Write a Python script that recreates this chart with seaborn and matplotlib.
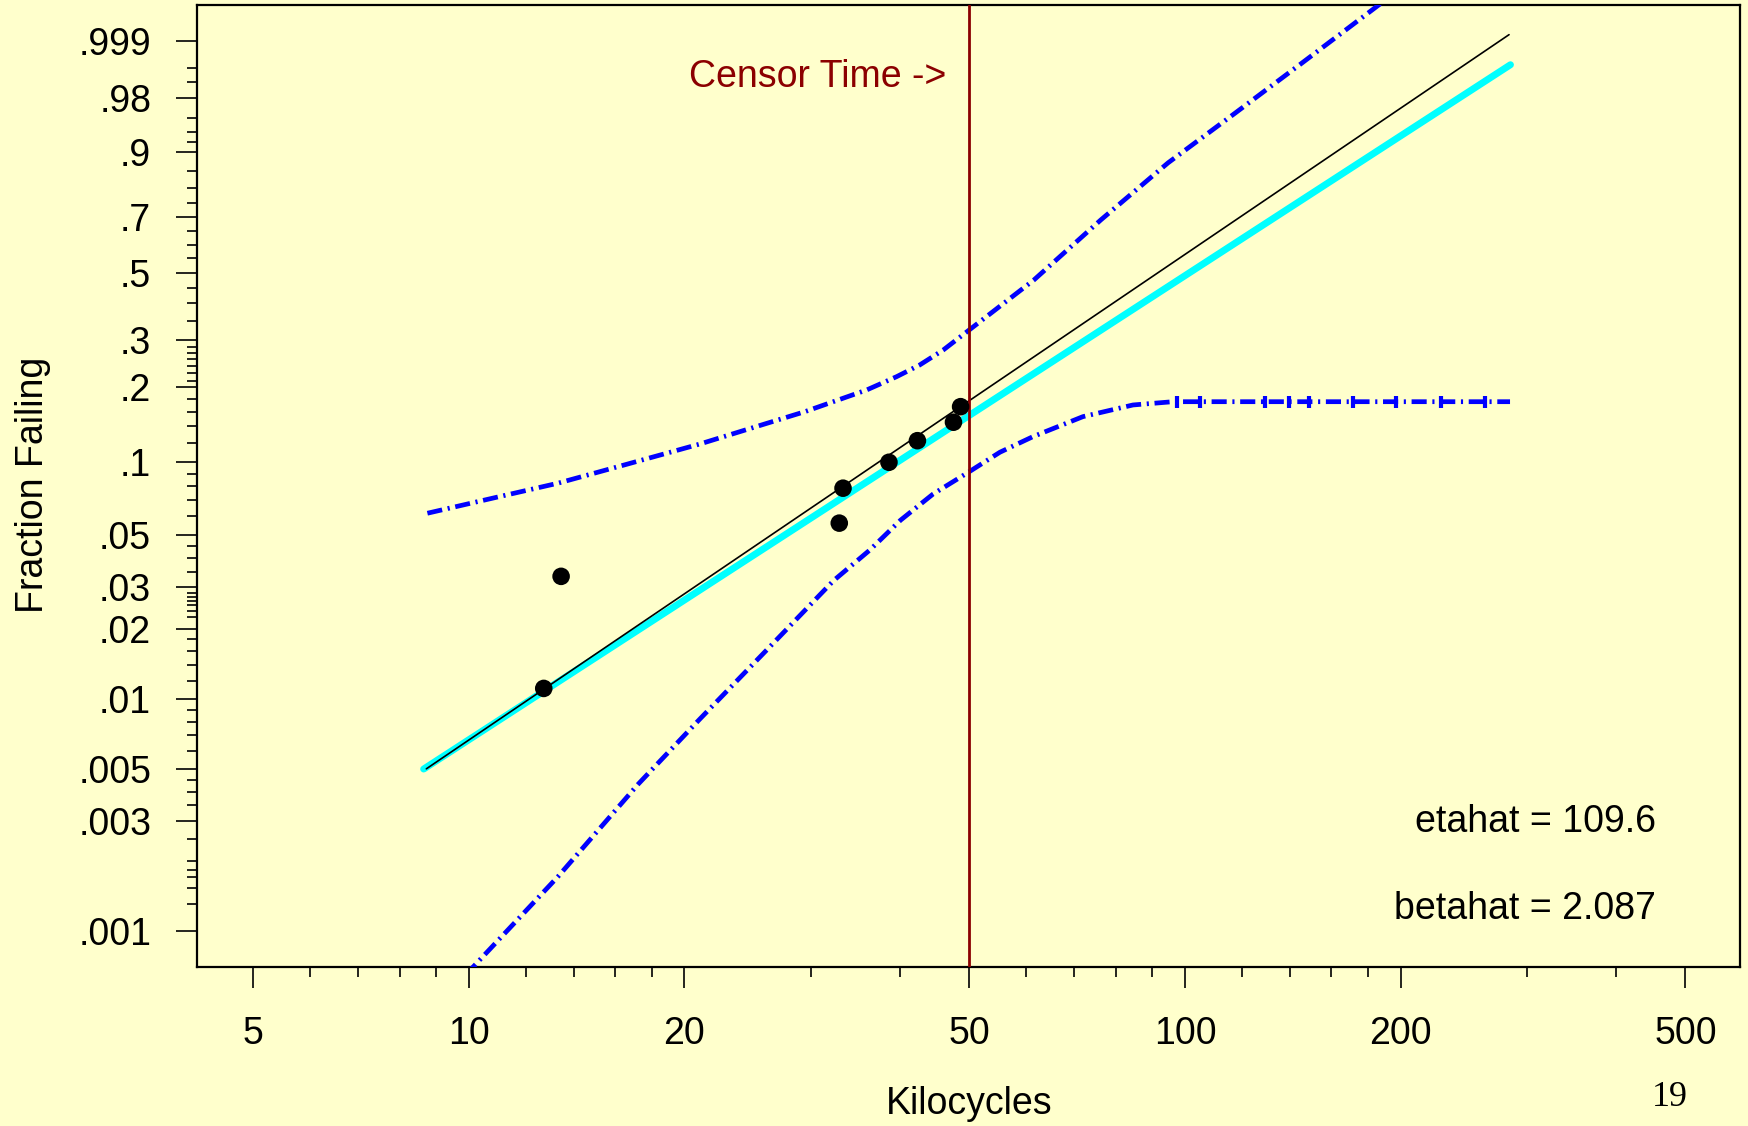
import numpy as np
import pandas as pd
import matplotlib
matplotlib.use("Agg")
import matplotlib.pyplot as plt
from matplotlib.ticker import NullFormatter
import seaborn as sns

# ---------------- data ----------------
fail_kcycles = [12.72, 13.45, 32.9, 33.3, 38.6, 42.3, 47.5, 48.6]
fail_prob = [0.0111, 0.0334, 0.0560, 0.0783, 0.1001, 0.1225, 0.1453, 0.1674]

mle_kcycles = [8.72, 283.5]
mle_prob = [0.00501, 0.99937]

cyan_kcycles = [8.645, 284.8]
cyan_prob = [0.00500, 0.99578]

upper_kcycles = [8.75, 10.73, 13.31, 16.52, 21.02, 26.0, 29.46, 32.27, 35.93,
                 39.56, 42.6, 45.96, 49.6, 61.5, 76.3, 94.7, 117.4, 145.5, 188.3]
upper_prob = [0.0616, 0.0709, 0.0821, 0.0978, 0.1188, 0.1435, 0.160, 0.1751, 0.1945,
              0.2187, 0.2420, 0.275, 0.320, 0.475, 0.690, 0.873, 0.9658, 0.9961, 0.99996]

lower_kcycles = [9.87, 10.15, 13.31, 17.24, 21.02, 26.05, 32.31, 36.31, 40.06, 44.47,
                 49.8, 55.15, 61.33, 72.02, 84.6, 96.2, 284.4]
lower_prob = [0.000648, 0.000705, 0.001718, 0.00431, 0.00821, 0.01621, 0.03206, 0.0432,
              0.0576, 0.0740, 0.0910, 0.1100, 0.1272, 0.1529, 0.170, 0.1751, 0.1751]

flat_mark_kcycles = [97.6, 104.8, 129.3, 139.5, 148.8, 171.9, 196.9, 227.5, 262.8]
flat_mark_prob = [0.1751] * 9

censor_time = 50

x_major = [5, 10, 20, 50, 100, 200, 500]
x_major_labels = ["5", "10", "20", "50", "100", "200", "500"]
x_minor = [6, 7, 8, 9, 12, 14, 16, 18, 30, 40, 60, 70, 80, 90, 120, 140, 160, 180, 300, 400]

y_major = [0.999, 0.98, 0.9, 0.7, 0.5, 0.3, 0.2, 0.1, 0.05, 0.03, 0.02, 0.01, 0.005, 0.003, 0.001]
y_major_labels = [".999", ".98", ".9", ".7", ".5", ".3", ".2", ".1", ".05", ".03", ".02",
                  ".01", ".005", ".003", ".001"]
y_minor = [0.995, 0.99, 0.96, 0.94, 0.92, 0.85, 0.8, 0.75, 0.65, 0.6, 0.55, 0.45, 0.4, 0.35,
           0.283, 0.269, 0.254, 0.24, 0.225, 0.211, 0.18, 0.16, 0.14, 0.12,
           0.09, 0.08, 0.07, 0.06, 0.045, 0.04, 0.035,
           0.0285, 0.0274, 0.0263, 0.0252, 0.0239, 0.0224,
           0.018, 0.016, 0.014, 0.012, 0.009, 0.008, 0.007, 0.006,
           0.0045, 0.004, 0.0035, 0.0025, 0.002, 0.00184, 0.00172, 0.00153, 0.00131]

eta_text = "etahat = 109.6"
beta_text = "betahat = 2.087"

# ---------------- styling ----------------
BG = "#FFFFCC"
sns.set_style("ticks", {"axes.facecolor": BG, "figure.facecolor": BG})
plt.rcParams["font.family"] = ["Liberation Sans", "DejaVu Sans"]
plt.rcParams["text.color"] = "black"
plt.rcParams["xtick.color"] = "black"
plt.rcParams["ytick.color"] = "black"
plt.rcParams["axes.edgecolor"] = "black"

W, H = 1748, 1126
fig = plt.figure(figsize=(W / 100, H / 100), dpi=100)
fig.patch.set_facecolor(BG)
L, R, T, B = 197, 1740, 4.5, 966.5
ax = fig.add_axes([L / W, 1 - B / H, (R - L) / W, (B - T) / H])
ax.set_facecolor(BG)

# bands
df_up = pd.DataFrame({"t": upper_kcycles, "p": upper_prob})
df_lo = pd.DataFrame({"t": lower_kcycles, "p": lower_prob})
dash = (0, (3.2, 1.2, 0.45, 1.2))
for df in (df_up, df_lo):
    sns.lineplot(data=df, x="t", y="p", ax=ax, color="#0000FF", lw=3.4,
                 estimator=None, sort=False, zorder=3)
    ax.lines[-1].set_linestyle(dash)
    ax.lines[-1].set_solid_joinstyle("round")

df_mark = pd.DataFrame({"t": flat_mark_kcycles, "p": flat_mark_prob})
sns.scatterplot(data=df_mark, x="t", y="p", ax=ax, marker="|", s=70, color="#0000FF",
                linewidth=3, zorder=3)

# fitted lines
sns.lineplot(x=cyan_kcycles, y=cyan_prob, ax=ax, color="#00FFFF", lw=5.0,
             estimator=None, sort=False, zorder=4)
sns.lineplot(x=mle_kcycles, y=mle_prob, ax=ax, color="black", lw=1.2,
             estimator=None, sort=False, zorder=5)

# censor line
ax.axvline(censor_time, color="#8B0000", lw=2.0, zorder=6)

# data points
sns.scatterplot(x=fail_kcycles, y=fail_prob, ax=ax, color="black", s=160,
                edgecolor="none", zorder=7)

# scales
def fwd(p):
    p = np.clip(np.asarray(p, dtype=float), 1e-15, 1 - 1e-15)
    return np.log(-np.log1p(-p))


def inv(w):
    w = np.clip(np.asarray(w, dtype=float), -60, 5)
    return -np.expm1(-np.exp(w))


ax.set_xscale("log")
ax.set_yscale("function", functions=(fwd, inv))
ax.set_xlim(4.171, 595.8)
ax.set_ylim(7.05e-4, 0.999952)

ax.set_xticks(x_major)
ax.set_xticklabels(x_major_labels)
ax.set_xticks(x_minor, minor=True)
ax.xaxis.set_minor_formatter(NullFormatter())
ax.set_yticks(y_major)
ax.set_yticklabels(y_major_labels)
ax.set_yticks(y_minor, minor=True)
ax.yaxis.set_minor_formatter(NullFormatter())

ax.tick_params(axis="both", which="major", direction="out", length=15, width=1.2,
               labelsize=27, colors="black", labelcolor="black")
ax.tick_params(axis="x", which="major", pad=21)
ax.tick_params(axis="y", which="major", pad=18)
ax.tick_params(axis="both", which="minor", direction="out", length=7.5, width=1.2,
               colors="black")

for s in ax.spines.values():
    s.set_visible(True)
    s.set_color("black")
    s.set_linewidth(1.6)

ax.set_xlabel("")
ax.set_ylabel("")


def ftext(x, y, s, **kw):
    kw.setdefault("color", "black")
    fig.text(x / W, 1 - y / H, s, **kw)


ftext(969, 1114, "Kilocycles", ha="center", va="baseline", fontsize=27)
ftext(33, 485, "Fraction Failing", ha="center", va="center", rotation=90, fontsize=27)
ftext(946, 87, "Censor Time ->", ha="right", va="baseline", fontsize=27, color="#8B0000")
ftext(1656, 831.5, eta_text, ha="right", va="baseline", fontsize=27)
ftext(1656, 919.4, beta_text, ha="right", va="baseline", fontsize=27)
ftext(1652, 1106, "19", ha="left", va="baseline", fontsize=26, family="Liberation Serif")

fig.savefig("out.png", dpi=100, facecolor=BG)
